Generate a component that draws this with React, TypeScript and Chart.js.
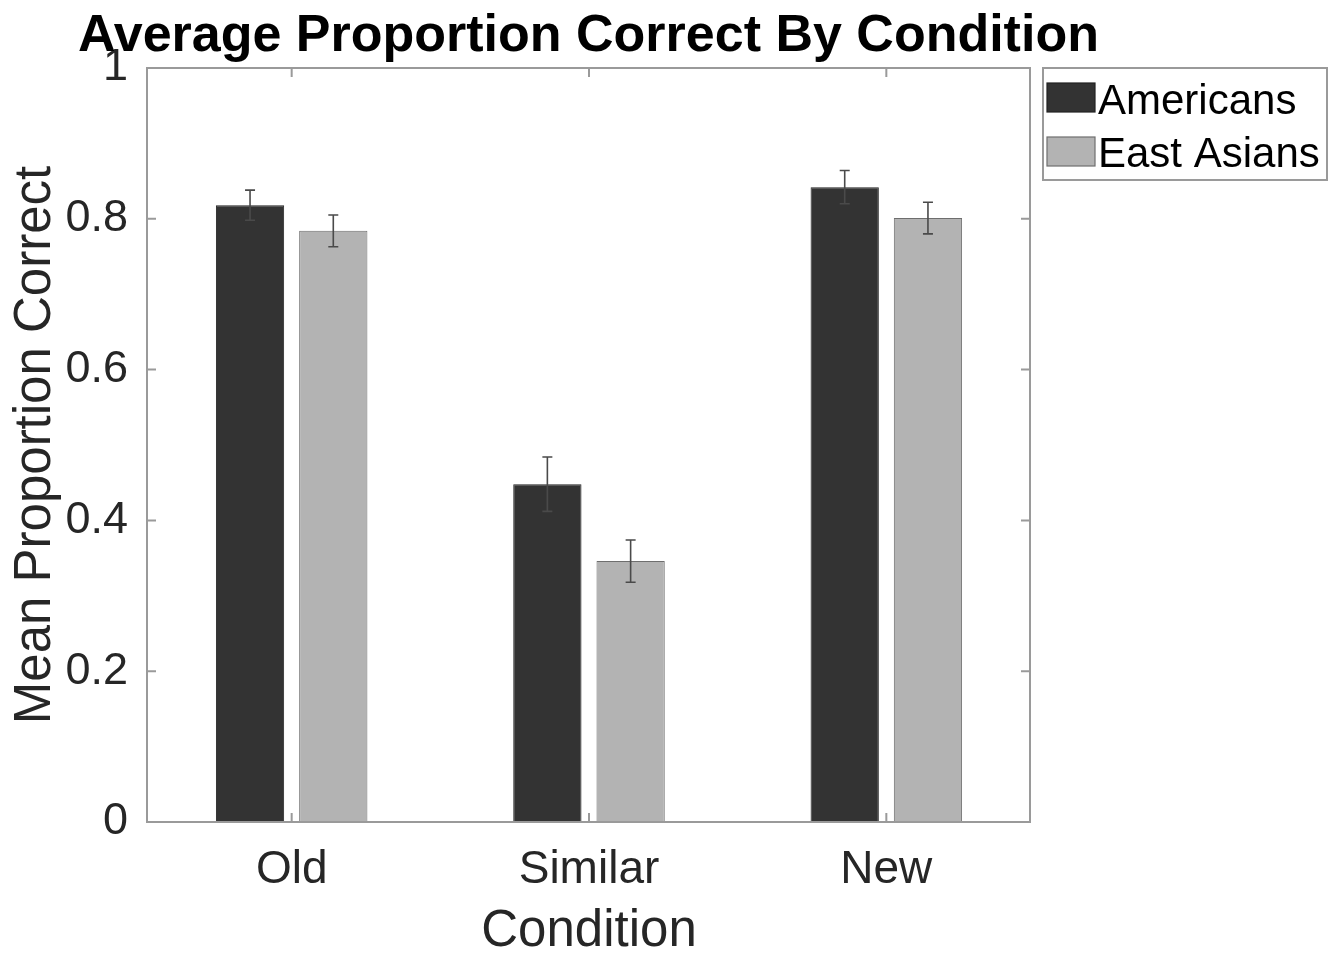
import React, { useEffect, useRef } from "react";
import { Chart, registerables } from "chart.js";

Chart.register(...registerables);

const categories = ["Old", "Similar", "New"];
const seriesNames = ["Americans", "East Asians"];
const americans = [0.818, 0.448, 0.842];
const eastAsians = [0.784, 0.346, 0.801];
const americansErr = [0.02, 0.036, 0.022];
const eastAsiansErr = [0.021, 0.028, 0.021];
const yTickValues = [0, 0.2, 0.4, 0.6, 0.8, 1];
const yTickLabels = ["0", "0.2", "0.4", "0.6", "0.8", "1"];
const titleText = "Average Proportion Correct By Condition";
const yTitle = "Mean Proportion Correct";
const xTitle = "Condition";

const FONT = "'Liberation Sans', Arial, Helvetica, sans-serif";
const barFill = ["#333333", "#b3b3b3"];
const barEdge = ["#222222", "#6e6e6e"];
const frameColor = "#9a9a9a";
const textColor = "#262626";

const errors = [americansErr, eastAsiansErr];

// frame inset relative to the category scale extent (MATLAB xlim slightly wider than the box)
const FRAME_INSET_L = 4;
const FRAME_INSET_R = 5;

const framePlugin = {
  id: "framePlugin",
  afterDatasetsDraw(chart: any) {
    const { ctx, chartArea } = chart;
    const left = chartArea.left + FRAME_INSET_L;
    const right = chartArea.right - FRAME_INSET_R;
    const { top, bottom } = chartArea;
    const y = chart.scales.y;
    const x = chart.scales.x;
    // error bars
    chart.data.datasets.forEach((ds: any, di: number) => {
      const meta = chart.getDatasetMeta(di);
      meta.data.forEach((bar: any, i: number) => {
        const v = ds.data[i];
        const e = errors[di][i];
        const y1 = y.getPixelForValue(v + e);
        const y2 = y.getPixelForValue(v - e);
        ctx.save();
        ctx.strokeStyle = "#4a4a4a";
        ctx.lineWidth = 1.6;
        ctx.beginPath();
        ctx.moveTo(bar.x, y1);
        ctx.lineTo(bar.x, y2);
        ctx.moveTo(bar.x - 5, y1);
        ctx.lineTo(bar.x + 5, y1);
        ctx.moveTo(bar.x - 5, y2);
        ctx.lineTo(bar.x + 5, y2);
        ctx.stroke();
        ctx.restore();
      });
    });
    // frame
    ctx.save();
    ctx.strokeStyle = frameColor;
    ctx.lineWidth = 2;
    ctx.strokeRect(left, top, right - left, bottom - top);
    ctx.beginPath();
    yTickValues.forEach((v) => {
      const py = y.getPixelForValue(v);
      ctx.moveTo(left, py);
      ctx.lineTo(left + 9, py);
      ctx.moveTo(right, py);
      ctx.lineTo(right - 9, py);
    });
    categories.forEach((_c, i) => {
      const px = x.getPixelForValue(i);
      ctx.moveTo(px, bottom);
      ctx.lineTo(px, bottom - 9);
      ctx.moveTo(px, top);
      ctx.lineTo(px, top + 9);
    });
    ctx.stroke();
    ctx.restore();
  },
  afterDraw(chart: any) {
    const { ctx, chartArea } = chart;
    const left = chartArea.left + FRAME_INSET_L;
    const right = chartArea.right - FRAME_INSET_R;
    // title
    ctx.save();
    ctx.fillStyle = "#000000";
    ctx.font = `bold 52px ${FONT}`;
    ctx.textAlign = "center";
    ctx.textBaseline = "alphabetic";
    ctx.fillText(titleText, (left + right) / 2, 51);
    ctx.restore();
    // legend
    const lx = 1043, ly = 68, lw = 284, lh = 112;
    ctx.save();
    ctx.fillStyle = "#ffffff";
    ctx.fillRect(lx, ly, lw, lh);
    ctx.strokeStyle = frameColor;
    ctx.lineWidth = 2;
    ctx.strokeRect(lx, ly, lw, lh);
    const rows = [
      { sy: 83, base: 114 },
      { sy: 137, base: 167 },
    ];
    seriesNames.forEach((name, i) => {
      ctx.fillStyle = barFill[i];
      ctx.fillRect(1047, rows[i].sy, 48, 29);
      ctx.strokeStyle = barEdge[i];
      ctx.lineWidth = 1.2;
      ctx.strokeRect(1047, rows[i].sy, 48, 29);
      ctx.fillStyle = "#000000";
      ctx.font = `42px ${FONT}`;
      ctx.textAlign = "left";
      ctx.textBaseline = "alphabetic";
      ctx.fillText(name, 1098, rows[i].base);
    });
    ctx.restore();
  },
};

export default function App() {
  const ref = useRef<HTMLCanvasElement | null>(null);
  useEffect(() => {
    if (!ref.current) return;
    const chart = new Chart(ref.current, {
      type: "bar",
      data: {
        labels: categories,
        datasets: [
          {
            label: seriesNames[0],
            data: americans,
            backgroundColor: barFill[0],
            borderColor: barEdge[0],
            borderWidth: 1,
            categoryPercentage: 0.56,
            barPercentage: 0.82,
          },
          {
            label: seriesNames[1],
            data: eastAsians,
            backgroundColor: barFill[1],
            borderColor: barEdge[1],
            borderWidth: 1,
            categoryPercentage: 0.56,
            barPercentage: 0.82,
          },
        ],
      },
      options: {
        responsive: false,
        animation: false,
        devicePixelRatio: 1,
        layout: { padding: { top: 68, right: 305, left: 0, bottom: 0 } },
        plugins: {
          legend: { display: false },
          title: { display: false },
          tooltip: { enabled: false },
        },
        scales: {
          x: {
            grid: { display: false },
            border: { display: false },
            ticks: {
              color: textColor,
              font: { family: FONT, size: 46 },
              padding: 13,
            },
            title: {
              display: true,
              text: xTitle,
              color: textColor,
              font: { family: FONT, size: 51, lineHeight: 1 },
              padding: { top: 0, bottom: -3 },
            },
            afterFit(scale: any) {
              scale.height = 132;
            },
          },
          y: {
            min: 0,
            max: 1,
            grid: { display: false },
            border: { display: false },
            afterBuildTicks(scale: any) {
              scale.ticks = yTickValues.map((v) => ({ value: v }));
            },
            ticks: {
              color: textColor,
              font: { family: FONT, size: 45 },
              padding: 7,
              callback: (v: any) => {
                const idx = yTickValues.findIndex((t) => Math.abs(t - Number(v)) < 1e-6);
                return idx >= 0 ? yTickLabels[idx] : "";
              },
            },
            title: {
              display: true,
              text: yTitle,
              color: textColor,
              font: { family: FONT, size: 51, lineHeight: 1 },
              padding: { top: 10, bottom: 0 },
            },
            afterFit(scale: any) {
              scale.width = 143;
            },
          },
        },
      },
      plugins: [framePlugin],
    } as any);
    return () => chart.destroy();
  }, []);
  return (
    <div style={{ position: "fixed", left: 0, top: 0, width: 1340, height: 954, background: "#fff" }}>
      <canvas ref={ref} width={1340} height={954} style={{ width: 1340, height: 954 }} />
    </div>
  );
}
